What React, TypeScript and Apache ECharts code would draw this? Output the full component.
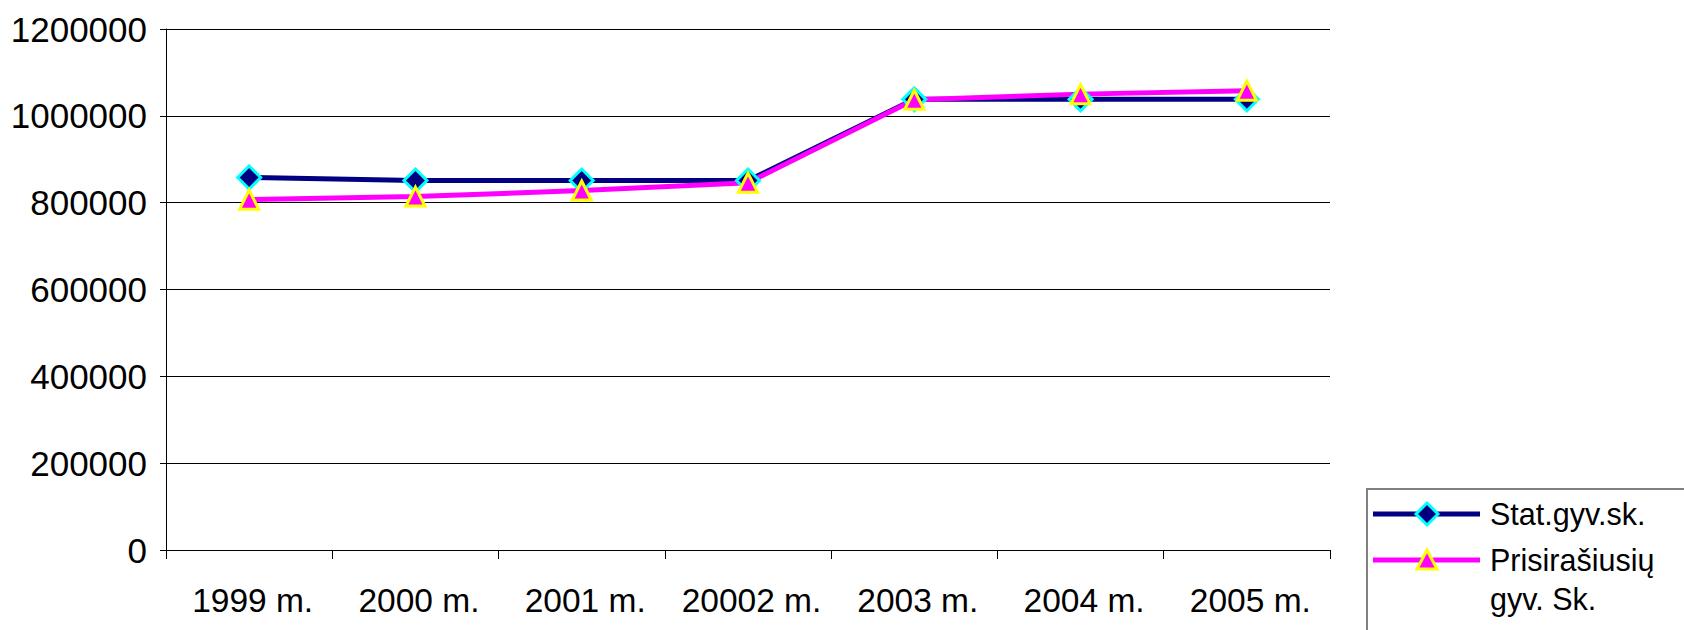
import React, { useEffect, useRef } from "react";
import * as echarts from "echarts";

const categories = ["1999 m.", "2000 m.", "2001 m.", "20002 m.", "2003 m.", "2004 m.", "2005 m."];
const statName = "Stat.gyv.sk.";
const statValues = [858000, 851000, 851000, 851000, 1038000, 1038000, 1038000];
const prisName = "Prisirašiusių gyv. Sk.";
const prisLines = ["Prisirašiusių", "gyv. Sk."];
const prisValues = [807000, 814000, 828000, 846000, 1037000, 1050000, 1058000];
const yMin = 0;
const yMax = 1200000;
const yInterval = 200000;

const FONT = "Liberation Sans, Arial, sans-serif";
const NAVY = "#000080";
const CYAN = "#00ffff";
const MAGENTA = "#ff00ff";
const YELLOW = "#ffff00";

export default function App() {
  const ref = useRef<HTMLDivElement>(null);
  useEffect(() => {
    const chart = echarts.init(ref.current!, null, { renderer: "svg" });
    const lx = 1373, lx2 = 1480, mx = 1427, tx = 1490;
    const y1 = 514, y2 = 560, y3 = 599;
    chart.setOption({
      animation: false,
      backgroundColor: "#ffffff",
      grid: { left: 166, right: 354, top: 29, bottom: 80, containLabel: false },
      xAxis: {
        type: "category",
        data: categories,
        boundaryGap: true,
        axisLine: { show: true, lineStyle: { color: "#000", width: 1 } },
        axisTick: { show: true, length: 9, alignWithLabel: false, interval: 0, lineStyle: { color: "#000" } },
        axisLabel: {
          interval: 0,
          fontSize: 33.5,
          color: "#000",
          fontFamily: FONT,
          margin: 33,
          padding: [0, 0, 0, 7],
        },
        splitLine: { show: false },
      },
      yAxis: {
        type: "value",
        min: yMin,
        max: yMax,
        interval: yInterval,
        axisLine: { show: true, lineStyle: { color: "#000", width: 1 } },
        axisTick: { show: true, length: 6, lineStyle: { color: "#000" } },
        axisLabel: {
          fontSize: 35,
          color: "#000",
          fontFamily: FONT,
          margin: 19,
          formatter: (v: number) => String(v),
        },
        splitLine: { show: true, lineStyle: { color: "#000", width: 1 } },
      },
      series: [
        {
          name: statName,
          type: "line",
          data: statValues,
          symbol: "diamond",
          symbolSize: 23,
          color: NAVY,
          lineStyle: { color: NAVY, width: 5 },
          itemStyle: { color: NAVY, borderColor: CYAN, borderWidth: 3 },
        },
        {
          name: prisName,
          type: "line",
          data: prisValues,
          symbol: "triangle",
          symbolSize: 19,
          color: MAGENTA,
          lineStyle: { color: MAGENTA, width: 5 },
          itemStyle: { color: MAGENTA, borderColor: YELLOW, borderWidth: 3 },
        },
      ],
      graphic: [
        {
          type: "rect",
          shape: { x: 1367, y: 489, width: 400, height: 300 },
          style: { fill: "#fff", stroke: "#808080", lineWidth: 2 },
        },
        { type: "line", shape: { x1: lx, y1: y1, x2: lx2, y2: y1 }, style: { stroke: NAVY, lineWidth: 5 } },
        {
          type: "polygon",
          shape: { points: [[mx, y1 - 11], [mx + 11, y1], [mx, y1 + 11], [mx - 11, y1]] },
          style: { fill: NAVY, stroke: CYAN, lineWidth: 3 },
        },
        {
          type: "text",
          x: tx,
          y: y1,
          style: { text: statName, fontSize: 30.5, fontFamily: FONT, fill: "#000", verticalAlign: "middle" },
        },
        { type: "line", shape: { x1: lx, y1: y2, x2: lx2, y2: y2 }, style: { stroke: MAGENTA, lineWidth: 5 } },
        {
          type: "polygon",
          shape: { points: [[mx, y2 - 10], [mx + 10, y2 + 9], [mx - 10, y2 + 9]] },
          style: { fill: MAGENTA, stroke: YELLOW, lineWidth: 3 },
        },
        {
          type: "text",
          x: tx,
          y: y2,
          style: { text: prisLines[0], fontSize: 30.5, fontFamily: FONT, fill: "#000", verticalAlign: "middle" },
        },
        {
          type: "text",
          x: tx,
          y: y3,
          style: { text: prisLines[1], fontSize: 30.5, fontFamily: FONT, fill: "#000", verticalAlign: "middle" },
        },
      ],
    });
    return () => chart.dispose();
  }, []);
  return <div ref={ref} style={{ position: "fixed", left: 0, top: 0, width: 1684, height: 630 }} />;
}
